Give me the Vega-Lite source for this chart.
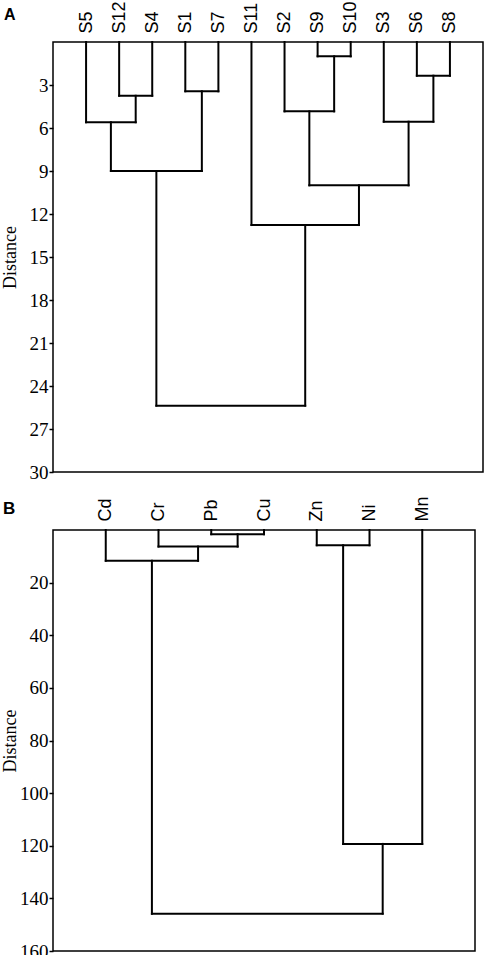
{
  "$schema": "https://vega.github.io/schema/vega-lite/v6.json",
  "padding": {"left": 0, "top": 0, "right": 0, "bottom": 0},
  "spacing": 12,
  "config": {
    "view": {"stroke": "black", "strokeWidth": 1.5},
    "axis": {"grid": false, "domain": false, "labelColor": "black", "tickColor": "black", "titleColor": "black"}
  },
  "vconcat": [
    {
      "width": 430,
      "height": 430,
      "title": {"text": "A", "anchor": "start", "frame": "bounds", "font": "Liberation Sans", "fontSize": 16, "fontWeight": "bold", "color": "black", "offset": -22, "dx": 3},
      "data": {"values": [
        {"x": 8, "x2": 8, "y": 0, "y2": 1.0},
        {"x": 9, "x2": 9, "y": 0, "y2": 1.0},
        {"x": 8, "x2": 9, "y": 1.0, "y2": 1.0},
        {"x": 11, "x2": 11, "y": 0, "y2": 2.35},
        {"x": 12, "x2": 12, "y": 0, "y2": 2.35},
        {"x": 11, "x2": 12, "y": 2.35, "y2": 2.35},
        {"x": 4, "x2": 4, "y": 0, "y2": 3.44},
        {"x": 5, "x2": 5, "y": 0, "y2": 3.44},
        {"x": 4, "x2": 5, "y": 3.44, "y2": 3.44},
        {"x": 2, "x2": 2, "y": 0, "y2": 3.75},
        {"x": 3, "x2": 3, "y": 0, "y2": 3.75},
        {"x": 2, "x2": 3, "y": 3.75, "y2": 3.75},
        {"x": 7, "x2": 7, "y": 0, "y2": 4.84},
        {"x": 8.5, "x2": 8.5, "y": 1.0, "y2": 4.84},
        {"x": 7, "x2": 8.5, "y": 4.84, "y2": 4.84},
        {"x": 10, "x2": 10, "y": 0, "y2": 5.56},
        {"x": 11.5, "x2": 11.5, "y": 2.35, "y2": 5.56},
        {"x": 10, "x2": 11.5, "y": 5.56, "y2": 5.56},
        {"x": 1, "x2": 1, "y": 0, "y2": 5.6},
        {"x": 2.5, "x2": 2.5, "y": 3.75, "y2": 5.6},
        {"x": 1, "x2": 2.5, "y": 5.6, "y2": 5.6},
        {"x": 1.75, "x2": 1.75, "y": 5.6, "y2": 9.0},
        {"x": 4.5, "x2": 4.5, "y": 3.44, "y2": 9.0},
        {"x": 1.75, "x2": 4.5, "y": 9.0, "y2": 9.0},
        {"x": 7.75, "x2": 7.75, "y": 4.84, "y2": 10.0},
        {"x": 10.75, "x2": 10.75, "y": 5.56, "y2": 10.0},
        {"x": 7.75, "x2": 10.75, "y": 10.0, "y2": 10.0},
        {"x": 6, "x2": 6, "y": 0, "y2": 12.77},
        {"x": 9.25, "x2": 9.25, "y": 10.0, "y2": 12.77},
        {"x": 6, "x2": 9.25, "y": 12.77, "y2": 12.77},
        {"x": 3.125, "x2": 3.125, "y": 9.0, "y2": 25.37},
        {"x": 7.625, "x2": 7.625, "y": 12.77, "y2": 25.37},
        {"x": 3.125, "x2": 7.625, "y": 25.37, "y2": 25.37}
      ]},
      "mark": {"type": "rule", "color": "black", "strokeWidth": 2, "strokeCap": "square"},
      "encoding": {
        "x": {"field": "x", "type": "quantitative", "scale": {"domain": [0, 13], "nice": false, "zero": false},
          "axis": {"orient": "top", "values": [1, 2, 3, 4, 5, 6, 7, 8, 9, 10, 11, 12],
            "labelExpr": "['','S5','S12','S4','S1','S7','S11','S2','S9','S10','S3','S6','S8'][datum.value]",
            "labelAngle": 270, "ticks": false, "labelFont": "Liberation Sans", "labelFontSize": 18, "labelPadding": 9, "title": null}},
        "x2": {"field": "x2"},
        "y": {"field": "y", "type": "quantitative", "scale": {"domain": [0, 30], "reverse": true, "nice": false},
          "axis": {"values": [3, 6, 9, 12, 15, 18, 21, 24, 27, 30], "title": "Distance", "titleFont": "Liberation Serif", "titleFontSize": 18, "titleFontWeight": "normal", "titlePadding": 10,
            "labelFont": "Liberation Serif", "labelFontSize": 19, "labelPadding": 1, "tickSize": 4, "tickWidth": 1.5}},
        "y2": {"field": "y2"}
      }
    },
    {
      "width": 422,
      "height": 421,
      "title": {"text": "B", "anchor": "start", "frame": "bounds", "font": "Liberation Sans", "fontSize": 17, "fontWeight": "bold", "color": "black", "offset": -22, "dx": 2},
      "data": {"values": [
        {"x": 3, "x2": 3, "y": 0, "y2": 1.6},
        {"x": 4, "x2": 4, "y": 0, "y2": 1.6},
        {"x": 3, "x2": 4, "y": 1.6, "y2": 1.6},
        {"x": 5, "x2": 5, "y": 0, "y2": 5.8},
        {"x": 6, "x2": 6, "y": 0, "y2": 5.8},
        {"x": 5, "x2": 6, "y": 5.8, "y2": 5.8},
        {"x": 2, "x2": 2, "y": 0, "y2": 6.3},
        {"x": 3.5, "x2": 3.5, "y": 1.6, "y2": 6.3},
        {"x": 2, "x2": 3.5, "y": 6.3, "y2": 6.3},
        {"x": 1, "x2": 1, "y": 0, "y2": 11.7},
        {"x": 2.75, "x2": 2.75, "y": 6.3, "y2": 11.7},
        {"x": 1, "x2": 2.75, "y": 11.7, "y2": 11.7},
        {"x": 5.5, "x2": 5.5, "y": 5.8, "y2": 119.3},
        {"x": 7, "x2": 7, "y": 0, "y2": 119.3},
        {"x": 5.5, "x2": 7, "y": 119.3, "y2": 119.3},
        {"x": 1.875, "x2": 1.875, "y": 11.7, "y2": 145.8},
        {"x": 6.25, "x2": 6.25, "y": 119.3, "y2": 145.8},
        {"x": 1.875, "x2": 6.25, "y": 145.8, "y2": 145.8}
      ]},
      "mark": {"type": "rule", "color": "black", "strokeWidth": 2, "strokeCap": "square"},
      "encoding": {
        "x": {"field": "x", "type": "quantitative", "scale": {"domain": [0, 8], "nice": false, "zero": false},
          "axis": {"orient": "top", "values": [1, 2, 3, 4, 5, 6, 7],
            "labelExpr": "['','Cd','Cr','Pb','Cu','Zn','Ni','Mn'][datum.value]",
            "labelAngle": 270, "ticks": false, "labelFont": "Liberation Sans", "labelFontSize": 18, "labelPadding": 9, "title": null}},
        "x2": {"field": "x2"},
        "y": {"field": "y", "type": "quantitative", "scale": {"domain": [0, 160], "reverse": true, "nice": false},
          "axis": {"values": [20, 40, 60, 80, 100, 120, 140, 160], "title": "Distance", "titleFont": "Liberation Serif", "titleFontSize": 18, "titleFontWeight": "normal", "titlePadding": 0.5,
            "labelFont": "Liberation Serif", "labelFontSize": 19, "labelPadding": 1, "tickSize": 4, "tickWidth": 1.5}},
        "y2": {"field": "y2"}
      }
    }
  ]
}
